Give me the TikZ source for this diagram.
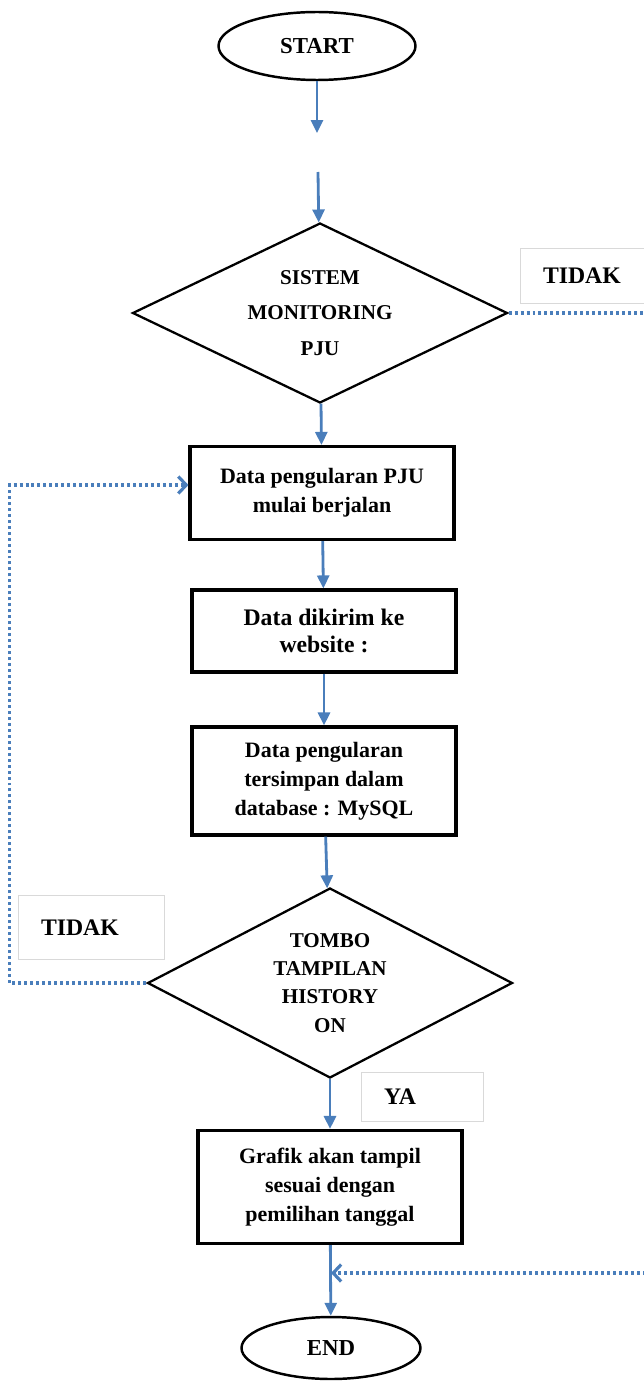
\documentclass[tikz,border=0pt]{standalone}
\usepackage{fontspec}
\setmainfont{Liberation Serif}
\usetikzlibrary{shapes.geometric, arrows.meta, positioning}
\definecolor{flowblue}{RGB}{74,126,187}

\begin{document}
\begin{tikzpicture}[x=0.02cm, y=-0.02cm,
  term/.style={ellipse, draw, line width=1.4pt, inner sep=0pt, font=\fontsize{13}{15}\selectfont\bfseries},
  proc/.style={rectangle, draw, line width=1.8pt, minimum width=5.28cm, align=center, inner sep=0pt, font=\fontsize{12.5}{16.5}\selectfont\bfseries},
  test/.style={diamond, draw, line width=1.3pt, aspect=2, inner sep=0pt, align=center, font=\fontsize{12}{20}\selectfont\bfseries},
  tag/.style={draw=black!15, line width=0.6pt, anchor=north west, align=left, inner xsep=0.45cm, inner ysep=0pt, font=\fontsize{13.5}{16}\selectfont\bfseries},
  flow/.style={draw=flowblue, line width=1.6pt, -{Triangle[length=0.26cm,width=0.24cm]}},
  back/.style={draw=flowblue, line width=1.8pt, dash pattern=on 1.7pt off 1.7pt, -{Straight Barb[length=0.16cm,width=0.34cm]}}]
  \useasboundingbox (0,0) rectangle (644,1382);

  \node[term, minimum width=3.94cm, minimum height=1.36cm] (start) at (317,46) {START};
  \coordinate (gapa) at (317,133);
  \coordinate (gapb) at (318,172);
  \node[test, minimum width=7.5cm, minimum height=3.6cm] (sis) at (320,313) {SISTEM\\MONITORING\\PJU};
  \node[proc, minimum height=1.86cm] (d1) at (322,493) {Data pengularan PJU\\mulai berjalan};
  \node[proc, minimum height=1.64cm, font=\fontsize{13.5}{15}\selectfont\bfseries] (d2) at (324,631) {Data dikirim ke\\website :};
  \node[proc, minimum height=2.16cm] (d3) at (324,781) {Data pengularan\\tersimpan dalam\\database : MySQL};
  \node[test, minimum width=7.3cm, minimum height=3.8cm, font=\fontsize{12}{16}\selectfont\bfseries] (tom) at (330,983) {TOMBO\\TAMPILAN\\HISTORY\\ON};
  \node[proc, minimum height=2.26cm] (graf) at (330,1187) {Grafik akan tampil\\sesuai dengan\\pemilihan tanggal};
  \node[term, minimum width=3.58cm, minimum height=1.24cm] (end) at (331,1348) {END};
  \coordinate (join) at (331,1273);

  \node[tag, text width=1.7cm, minimum height=1.1cm] (no1) at (520,248) {TIDAK};
  \node[tag, text width=2.02cm, minimum height=1.28cm] (no2) at (18,895) {TIDAK};
  \node[tag, text width=1.54cm, minimum height=0.98cm] (yes) at (361,1072) {YA};

  \draw[flow] (start) -- (gapa);
  \draw[flow] (gapb) -- (sis);
  \draw[flow] (sis) -- (d1);
  \draw[flow] (d1) -- (d2);
  \draw[flow] (d2) -- (d3);
  \draw[flow] (d3) -- (tom);
  \draw[flow] (tom) -- (graf);
  \draw[flow] (graf) -- (end);
  \draw[back] (sis.east) -- ++(150,0) |- (join);
  \draw[back] (tom.west) -- ++(-137,0) |- ([yshift=0.16cm]d1.west);
\end{tikzpicture}
\end{document}
